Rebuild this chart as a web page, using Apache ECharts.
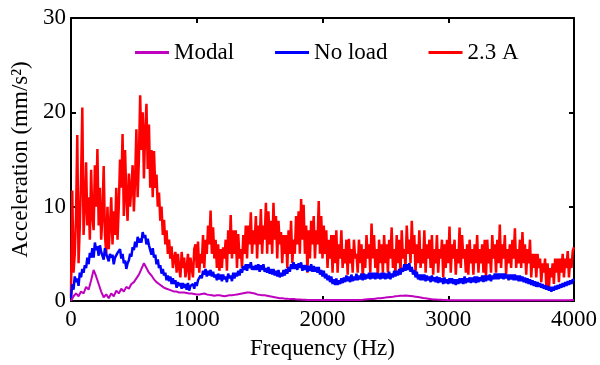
<!DOCTYPE html>
<html>
<head>
<meta charset="utf-8">
<script src="https://cdn.jsdelivr.net/npm/echarts@6/dist/echarts.min.js"></script>
<style>
  html, body { margin: 0; padding: 0; background: #fff; }
  #chart { width: 600px; height: 365px; }
</style>
</head>
<body>
<div id="chart"></div>
<script>
// 频谱数据 (0 - 4000 Hz)
var seriesNames = ["Modal", "No load", "2.3 A"];

// Modal: 步长 20 Hz
var modalStep = 20;
var modal = [
  0, 0.5, 0.8, 0.5, 1.0, 0.8, 1.5, 1.2, 2.2, 3.3,
  2.6, 1.8, 1.0, 0.4, 0.7, 0.3, 0.8, 0.5, 1.1, 0.8,
  1.3, 1.0, 1.5, 1.3, 1.8, 2.0, 2.4, 2.8, 3.4, 4.0,
  3.5, 3.0, 2.7, 2.3, 2.0, 1.8, 1.6, 1.4, 1.3, 1.2,
  1.1, 1.0, 1.0, 0.9, 0.9, 0.9, 0.85, 0.8, 0.8, 0.75,
  0.7, 0.7, 0.75, 0.8, 0.7, 0.65, 0.6, 0.55, 0.6, 0.6,
  0.55, 0.5, 0.55, 0.6, 0.6, 0.65, 0.7, 0.75, 0.8, 0.85,
  0.9, 0.9, 0.85, 0.8, 0.7, 0.65, 0.6, 0.6, 0.55, 0.5,
  0.45, 0.4, 0.35, 0.3, 0.3, 0.25, 0.25, 0.2, 0.2, 0.2,
  0.15, 0.15, 0.12, 0.12, 0.1, 0.1, 0.1, 0.1, 0.1, 0.1,
  0.1, 0.1, 0.1, 0.1, 0.1, 0.1, 0.1, 0.1, 0.1, 0.1,
  0.1, 0.1, 0.1, 0.1, 0.1, 0.1, 0.12, 0.15, 0.18, 0.2,
  0.22, 0.25, 0.28, 0.3, 0.33, 0.36, 0.4, 0.43, 0.46, 0.5,
  0.52, 0.55, 0.56, 0.57, 0.56, 0.54, 0.5, 0.46, 0.42, 0.37,
  0.32, 0.28, 0.24, 0.2, 0.17, 0.15, 0.13, 0.12, 0.1, 0.1,
  0.08, 0.08, 0.08, 0.08, 0.08, 0.08, 0.08, 0.08, 0.08, 0.08,
  0.08, 0.08, 0.08, 0.08, 0.08, 0.08, 0.08, 0.08, 0.08, 0.08,
  0.08, 0.08, 0.08, 0.08, 0.08, 0.08, 0.08, 0.08, 0.08, 0.08,
  0.08, 0.08, 0.08, 0.08, 0.08, 0.08, 0.08, 0.08, 0.08, 0.08,
  0.08, 0.08, 0.08, 0.08, 0.08, 0.08, 0.08, 0.08, 0.08, 0.1,
  0.1
];

// No load / 2.3 A: 步长 10 Hz, 每行 100 Hz
var step = 10;
var noLoad = [
  0.3, 1.8, 1.2, 2.6, 2.0, 2.4, 1.6, 3.0, 2.5, 3.4,
  3.0, 3.8, 3.5, 4.6, 3.9, 5.1, 4.6, 5.6, 4.6, 6.2,
  5.4, 5.8, 4.8, 5.9, 5.2, 5.0, 4.4, 5.6, 5.0, 5.2,
  4.2, 5.0, 4.6, 4.9, 3.9, 4.6, 4.5, 5.1, 4.9, 5.5,
  4.5, 5.0, 4.0, 4.3, 3.4, 4.0, 4.3, 5.0, 4.7, 5.7,
  5.4, 6.3, 5.7, 6.8, 6.2, 6.6, 6.2, 7.3, 6.7, 7.0,
  6.0, 6.6, 5.9, 6.1, 4.9, 5.6, 4.6, 4.9, 3.9, 4.4,
  3.5, 3.8, 2.9, 3.4, 2.7, 3.0, 2.2, 2.7, 2.1, 2.6,
  1.8, 2.4, 1.8, 2.2, 1.4, 2.0, 1.6, 1.9, 1.3, 1.9,
  1.4, 1.8, 1.2, 1.9, 1.1, 1.6, 1.4, 1.8, 1.3, 2.0,
  1.6, 2.2, 2.0, 2.7, 2.4, 3.2, 2.8, 3.4, 2.6, 3.2,
  2.7, 3.3, 2.6, 3.1, 2.5, 2.8, 2.2, 2.9, 2.3, 2.8,
  2.1, 2.8, 2.3, 2.6, 2.0, 2.9, 2.4, 2.7, 2.1, 3.0,
  2.4, 3.0, 2.6, 3.2, 2.7, 3.4, 3.0, 3.7, 3.3, 3.9,
  3.2, 3.9, 3.5, 4.1, 3.3, 3.7, 3.3, 3.8, 3.3, 3.9,
  3.1, 3.8, 3.3, 3.9, 3.1, 3.5, 3.0, 3.6, 2.9, 3.4,
  2.8, 3.4, 2.7, 3.2, 2.6, 3.3, 2.5, 3.0, 2.6, 3.3,
  2.7, 3.4, 2.9, 3.6, 3.1, 3.9, 3.4, 4.1, 3.4, 3.9,
  3.3, 4.0, 3.5, 4.1, 3.2, 3.8, 3.3, 3.8, 3.1, 3.7,
  3.2, 3.9, 3.1, 3.7, 3.1, 3.6, 3.0, 3.6, 2.8, 3.3,
  2.6, 3.2, 2.4, 2.9, 2.2, 2.7, 2.0, 2.6, 1.8, 2.3,
  1.7, 2.4, 1.7, 2.2, 1.8, 2.4, 1.9, 2.5, 2.0, 2.7,
  2.1, 2.6, 2.0, 2.8, 2.1, 2.6, 2.2, 2.9, 2.2, 2.7,
  2.3, 2.9, 2.2, 2.9, 2.3, 2.8, 2.4, 3.0, 2.3, 3.0,
  2.4, 3.0, 2.3, 3.0, 2.4, 2.9, 2.3, 3.0, 2.4, 3.0,
  2.3, 2.9, 2.4, 3.1, 2.3, 2.9, 2.5, 3.2, 2.6, 3.2,
  2.7, 3.4, 2.8, 3.5, 3.1, 3.9, 3.2, 3.9, 3.3, 4.0,
  3.1, 3.6, 2.8, 3.3, 2.5, 3.1, 2.3, 2.8, 2.2, 2.8,
  2.2, 2.8, 2.1, 2.7, 2.2, 2.6, 2.0, 2.7, 2.1, 2.5,
  2.0, 2.6, 1.9, 2.5, 2.0, 2.4, 1.8, 2.5, 1.9, 2.3,
  1.8, 2.4, 1.9, 2.4, 1.8, 2.3, 1.7, 2.3, 1.8, 2.4,
  1.9, 2.4, 1.8, 2.6, 1.9, 2.4, 2.0, 2.5, 1.9, 2.5,
  2.0, 2.6, 1.9, 2.6, 2.0, 2.5, 2.1, 2.7, 2.0, 2.7,
  2.1, 2.7, 2.2, 2.8, 2.1, 2.7, 2.3, 2.9, 2.3, 2.9,
  2.3, 2.9, 2.4, 2.9, 2.3, 2.9, 2.4, 2.8, 2.2, 2.8,
  2.3, 2.8, 2.2, 2.8, 2.2, 2.7, 2.1, 2.7, 2.1, 2.6,
  2.0, 2.5, 1.9, 2.4, 1.8, 2.3, 1.7, 2.2, 1.6, 2.1,
  1.5, 2.0, 1.5, 1.9, 1.4, 1.8, 1.3, 1.7, 1.2, 1.6,
  1.1, 1.5, 1.0, 1.5, 1.1, 1.6, 1.2, 1.7, 1.3, 1.8,
  1.4, 1.9, 1.5, 2.0, 1.6, 2.1, 1.7, 2.2, 1.8, 2.3,
  2.1
];

var load23 = [
  0.5, 11.7, 3, 5, 9, 17.6, 4, 8, 13, 20.5,
  7, 10, 14.7, 8, 11, 6.5, 13.9, 9, 7.5, 14.4,
  10, 16.1, 8, 12, 6.5, 9, 14.3, 7, 5, 10,
  5.5, 8, 11, 6, 9.5, 7, 12, 6.5, 10, 15,
  12, 17.7, 9, 16, 11, 8.5, 13.5, 10, 12, 14.4,
  9.5, 13, 18.2, 11, 15, 21.8, 16, 20, 13, 18,
  20.9, 14, 18.7, 12, 16, 11, 15.9, 12, 13.4, 10,
  11.5, 8.5, 10, 7, 8.6, 6, 7.5, 5, 6.5, 4.5,
  5.8, 3.5, 4.5, 5.2, 3, 5, 3.5, 2.5, 5.2, 3.5,
  4.6, 2.5, 3.5, 5, 2.2, 4.6, 3.5, 2.5, 5.5, 6,
  3.5, 6.3, 3, 5, 4, 7, 3.5, 6.5, 5, 8,
  6, 9.6, 5, 7.8, 4.5, 6.5, 3.5, 6, 3.2, 5.5,
  3.5, 5.7, 4.5, 6.5, 3.2, 7.5, 5, 9.1, 4.5, 7.5,
  5, 7.5, 3.5, 7.1, 4.5, 5.5, 3.5, 7, 5, 8,
  4.5, 8, 6, 9.4, 5, 7.5, 6, 9, 4.5, 8,
  6, 9.75, 5, 8, 6.5, 10.4, 5, 9.5, 6, 8.5,
  5, 10.4, 6.5, 9, 4.5, 8.5, 6, 7.3, 4, 7,
  5, 7, 3.5, 7.5, 5, 8.5, 4, 6.5, 5, 9,
  6, 9.5, 5, 10.8, 6.5, 10.2, 5, 8, 3, 7.5,
  4.5, 8.5, 6, 9, 4.5, 7.5, 6, 10.6, 5, 9,
  4.5, 8, 5, 7.5, 3.5, 6.5, 4.5, 7, 3, 7,
  4, 7.5, 3, 6, 4.5, 7.5, 3.5, 5.5, 4, 6.5,
  2.8, 6.6, 4, 5.5, 3, 6.5, 4.5, 5, 3, 6.5,
  4, 6, 2.5, 5.5, 3.5, 7, 4.5, 6, 3, 8.2,
  4.5, 7, 3.5, 5.5, 2.5, 6.5, 4, 6, 3, 7,
  4, 6, 3, 6.5, 4.5, 7.8, 3.5, 5.5, 2.8, 7,
  4, 6.5, 2.8, 7.5, 4.5, 5.5, 3.5, 8, 5, 6.5,
  4, 8.5, 5, 7, 3, 6, 4, 7.5, 3.5, 5.5,
  4, 7.5, 3, 6, 4.5, 6.5, 3.5, 7, 2.8, 5.5,
  4, 7, 3, 5.5, 4.5, 6.5, 2.5, 6, 3.5, 6.5,
  4, 7.9, 3, 6, 4.5, 6.5, 2.8, 5.5, 4, 7.8,
  3.5, 7, 4.5, 5.5, 3, 6, 2.8, 6.5, 4, 5.5,
  2.8, 6, 4, 7, 3, 5.5, 4, 6, 3, 6.5,
  2.5, 6.5, 4, 5.5, 3, 7, 4.5, 6, 3, 6.5,
  4, 8.1, 3.5, 6, 4.5, 7, 2.8, 5.5, 4, 6,
  3.5, 6.5, 4.5, 7.7, 3.5, 5.5, 4, 6.5, 3.5, 7.3,
  4, 6, 2.8, 5.5, 4, 6.5, 2.5, 5, 3.5, 5,
  2.5, 5, 3.5, 4.5, 2, 4, 3, 4.5, 1.5, 4,
  1.2, 3.5, 2.5, 4, 1.8, 4.5, 3, 4.5, 2, 4.5,
  3, 5, 2.5, 4.5, 3.5, 5.3, 2.5, 4.5, 3.5, 5.3,
  5.7
];

function pairs(arr, dx) {
    var out = [];
    for (var i = 0; i < arr.length; i++) {
        out.push([i * dx, arr[i]]);
    }
    return out;
}

var font = "Liberation Serif";
var fs = 23;
function plain(v) { return String(v); }

var myChart = echarts.init(document.getElementById("chart"));

myChart.setOption({
    animation: false,
    backgroundColor: "#fff",
    grid: { left: 71, right: 25, top: 18, bottom: 60 },
    legend: {
        data: seriesNames,
        left: 130,
        top: 36,
        itemWidth: 34,
        itemHeight: 3,
        itemGap: 41,
        icon: "rect",
        textStyle: { fontFamily: font, fontSize: fs, color: "#000" }
    },
    xAxis: [
        {
            type: "value",
            min: 0, max: 4000, interval: 1000,
            name: "Frequency (Hz)",
            nameLocation: "middle",
            nameGap: 36,
            nameTextStyle: { fontFamily: font, fontSize: fs, color: "#000" },
            axisLine: { onZero: false, lineStyle: { color: "#000", width: 2 } },
            axisTick: { inside: true, length: 5, lineStyle: { color: "#000", width: 2 } },
            axisLabel: { fontFamily: font, fontSize: fs, color: "#000", margin: 7, formatter: plain },
            splitLine: { show: false }
        },
        {
            type: "value", position: "top",
            min: 0, max: 4000, interval: 1000,
            axisLine: { show: true, onZero: false, lineStyle: { color: "#000", width: 2 } },
            axisTick: { show: true, inside: true, length: 5, lineStyle: { color: "#000", width: 2 } },
            axisLabel: { show: false },
            splitLine: { show: false }
        }
    ],
    yAxis: [
        {
            type: "value",
            min: 0, max: 30, interval: 10,
            name: "Acceleration (mm/s²)",
            nameLocation: "middle",
            nameGap: 38,
            nameTextStyle: { fontFamily: font, fontSize: fs, color: "#000" },
            axisLine: { show: true, onZero: false, lineStyle: { color: "#000", width: 2 } },
            axisTick: { show: true, inside: true, length: 5, lineStyle: { color: "#000", width: 2 } },
            axisLabel: { fontFamily: font, fontSize: fs, color: "#000", margin: 5, formatter: plain },
            splitLine: { show: false }
        },
        {
            type: "value", position: "right",
            min: 0, max: 30, interval: 10,
            axisLine: { show: true, onZero: false, lineStyle: { color: "#000", width: 2 } },
            axisTick: { show: true, inside: true, length: 5, lineStyle: { color: "#000", width: 2 } },
            axisLabel: { show: false },
            splitLine: { show: false }
        }
    ],
    series: [
        {
            name: "Modal", type: "line", data: pairs(modal, modalStep),
            showSymbol: false, color: "#bf00bf",
            lineStyle: { width: 2, color: "#bf00bf" }, z: 3
        },
        {
            name: "No load", type: "line", data: pairs(noLoad, step),
            showSymbol: false, color: "#0000ff",
            lineStyle: { width: 2.5, color: "#0000ff" }, z: 2
        },
        {
            name: "2.3 A", type: "line", data: pairs(load23, step),
            showSymbol: false, color: "#ff0000",
            lineStyle: { width: 2.5, color: "#ff0000" }, z: 1
        }
    ]
});
</script>
</body>
</html>
